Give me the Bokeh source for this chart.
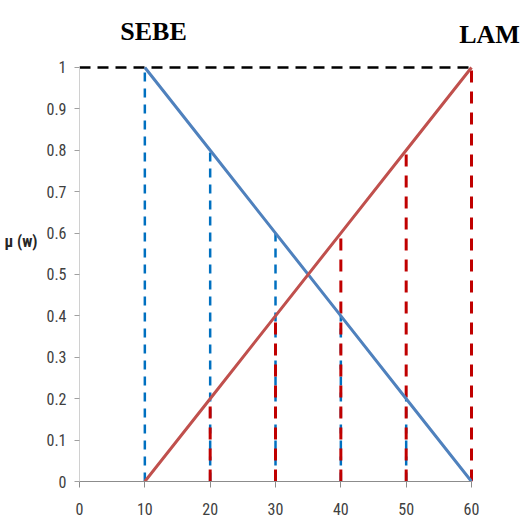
from bokeh.plotting import figure
from bokeh.models import Range1d, FixedTicker
from bokeh.embed import file_html
from bokeh.resources import INLINE

# ---- data ----
w_values = [10, 20, 30, 40, 50, 60]
sebe = [1.0, 0.8, 0.6, 0.4, 0.2, 0.0]
lam = [0.0, 0.2, 0.4, 0.6, 0.8, 1.0]
x_ticks = [0, 10, 20, 30, 40, 50, 60]
y_ticks = [0, 0.1, 0.2, 0.3, 0.4, 0.5, 0.6, 0.7, 0.8, 0.9, 1.0]
y_tick_labels = ["0", "0.1", "0.2", "0.3", "0.4", "0.5", "0.6", "0.7", "0.8", "0.9", "1"]
top_line_x = [0, 60]
top_line_y = [1, 1]
set_names = ["SEBE", "LAM"]
set_name_x = [11.33, 62.76]
set_name_y = [1.087, 1.080]
y_label = "μ (w)"

TICK_FONT = "'Liberation Sans Narrow', 'Roboto Condensed', 'Roboto'"

p = figure(width=521, height=522, output_backend="svg", toolbar_location=None,
           x_range=Range1d(0, 67.65), y_range=Range1d(0, 1.1618),
           min_border_left=79, min_border_top=0, min_border_right=0, min_border_bottom=41)
p.outline_line_color = None
p.xgrid.visible = False
p.ygrid.visible = False

# dashed verticals
blue_x = w_values[:-1]
blue_top = sebe[:-1]
red_x = w_values[1:]
red_top = lam[1:]
p.segment(x0=blue_x, y0=[0] * len(blue_x), x1=blue_x, y1=blue_top,
          line_color="#0070C0", line_width=2.5, line_dash="9 7")
p.segment(x0=red_x, y0=[0] * len(red_x), x1=red_x, y1=red_top,
          line_color="#C00000", line_width=3, line_dash="12 9")
# top dashed line
p.line(top_line_x, top_line_y, line_color="#000000", line_width=2.5, line_dash="11 7")

# membership lines
p.line(w_values, sebe, line_color="#4F81BD", line_width=3)
p.line(w_values, lam, line_color="#C0504D", line_width=3)

# set names
p.text(x=set_name_x, y=set_name_y, text=set_names, text_align="center",
       text_baseline="alphabetic", text_font={"value": "Liberation Serif"},
       text_font_style="bold", text_font_size="26px", text_color="#000000")

# axes
xa = p.xaxis[0]
xa.ticker = FixedTicker(ticks=x_ticks)
xa.bounds = (0, 60)
xa.minor_tick_line_color = None
xa.major_tick_out = 6
xa.major_tick_in = 0
xa.axis_line_color = "#8C8C8C"
xa.major_tick_line_color = "#8C8C8C"
xa.major_label_text_font = TICK_FONT
xa.major_label_text_font_size = "16px"
xa.major_label_text_color = "#404040"
xa.major_label_standoff = 15

ya = p.yaxis[0]
ya.ticker = FixedTicker(ticks=y_ticks)
ya.bounds = (0, 1)
ya.major_label_overrides = {t: l for t, l in zip(y_ticks, y_tick_labels)}
ya.minor_tick_line_color = None
ya.major_tick_out = 5
ya.major_tick_in = 0
ya.axis_line_color = "#D0D0D0"
ya.major_tick_line_color = "#A0A0A0"
ya.major_label_text_font = TICK_FONT
ya.major_label_text_font_size = "16px"
ya.major_label_text_color = "#404040"
ya.major_label_standoff = 8
ya.axis_label = y_label
ya.axis_label_orientation = "horizontal"
ya.axis_label_text_font = TICK_FONT
ya.axis_label_text_font_style = "bold"
ya.axis_label_text_font_size = "16px"
ya.axis_label_text_color = "#262626"
ya.axis_label_standoff = 6

open("out.html", "w").write(file_html(p, INLINE))
